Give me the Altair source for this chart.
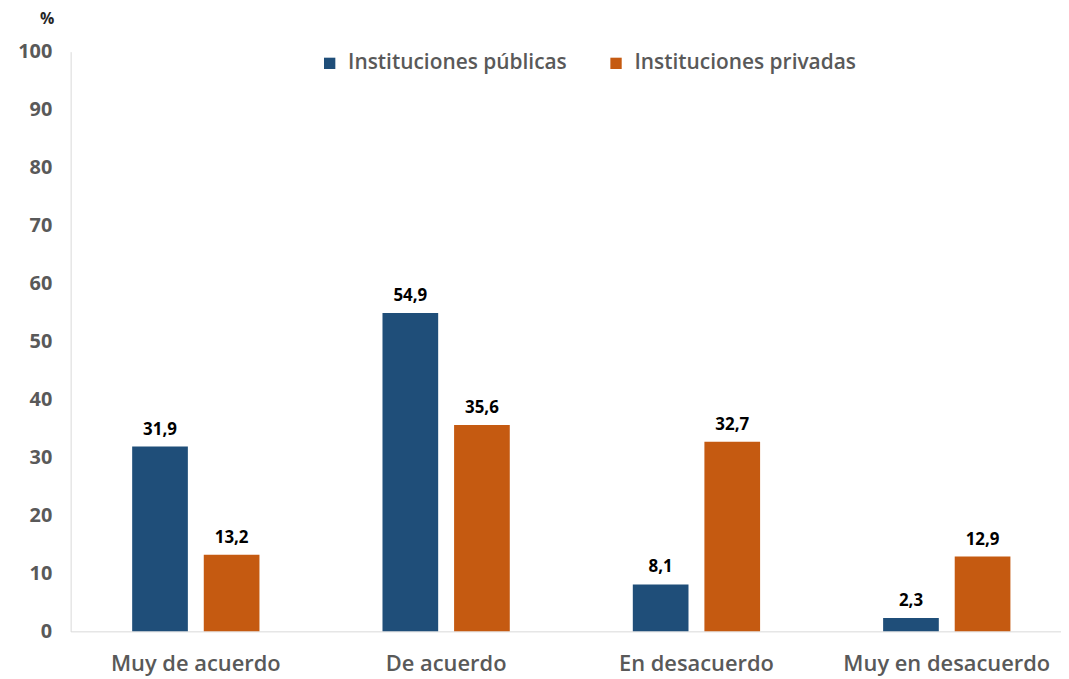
import altair as alt
import pandas as pd

categories = ["Muy de acuerdo", "De acuerdo", "En desacuerdo", "Muy en desacuerdo"]
series = ["Instituciones públicas", "Instituciones privadas"]
publicas = [31.9, 54.9, 8.1, 2.3]
privadas = [13.2, 35.6, 32.7, 12.9]
colors = ["#1f4e79", "#c55a11"]

rows = []
for c, v in zip(categories, publicas):
    rows.append({"cat": c, "serie": series[0], "val": v})
for c, v in zip(categories, privadas):
    rows.append({"cat": c, "serie": series[1], "val": v})
df = pd.DataFrame(rows)
df["label"] = df["val"].map(lambda v: f"{v:.1f}".replace(".", ","))

FONT = "Open Sans"

x = alt.X("cat:N", sort=categories, title=None,
          scale=alt.Scale(range=[0, 1007], paddingInner=0.4915, paddingOuter=0.2458),
          axis=alt.Axis(labelAngle=0, labelFontSize=22, labelColor="#595959",
                        labelFont=FONT, labelFontWeight=600, ticks=False,
                        domainColor="#d9d9d9", labelPadding=22, labelLimit=0))
y = alt.Y("val:Q", title="%",
          scale=alt.Scale(domain=[0, 100], nice=False),
          axis=alt.Axis(values=list(range(0, 101, 10)), grid=False, ticks=False,
                        labelFontSize=20, labelColor="#595959", labelFont=FONT,
                        labelFontWeight="bold", labelPadding=19,
                        domainColor="#d9d9d9",
                        titleAngle=0, titleFont=FONT, titleFontSize=16,
                        titleFontWeight="bold", titleColor="#262626",
                        titleX=-24, titleY=-25, titleAlign="center"))
xo = alt.XOffset("serie:N", sort=series,
                 scale=alt.Scale(paddingInner=0.2222, paddingOuter=0))

base = alt.Chart(df)

bars = base.mark_bar().encode(
    x=x, y=y, xOffset=xo,
    color=alt.Color("serie:N", sort=series,
                    scale=alt.Scale(domain=series, range=colors),
                    legend=alt.Legend(title=None, orient="none", direction="horizontal",
                                      legendX=250, legendY=1, symbolType="square",
                                      symbolSize=130, labelFontSize=21, labelFont=FONT,
                                      labelFontWeight=600, labelColor="#595959",
                                      labelLimit=0, columnPadding=38,
                                      symbolStrokeWidth=0, labelOffset=8)),
)

labels = base.mark_text(dy=-17, fontSize=17, fontWeight="bold", font=FONT,
                        color="#000000").encode(
    x=x, y=y, xOffset=xo, text="label:N"
)

chart = (bars + labels).properties(
    width=994, height=583,
    autosize=alt.AutoSizeParams(type="none"),
    padding={"left": 63, "top": 42, "right": 2, "bottom": 50},
).configure_view(stroke=None)

chart.save("out.html", embed_options={"renderer": "svg", "actions": False})
